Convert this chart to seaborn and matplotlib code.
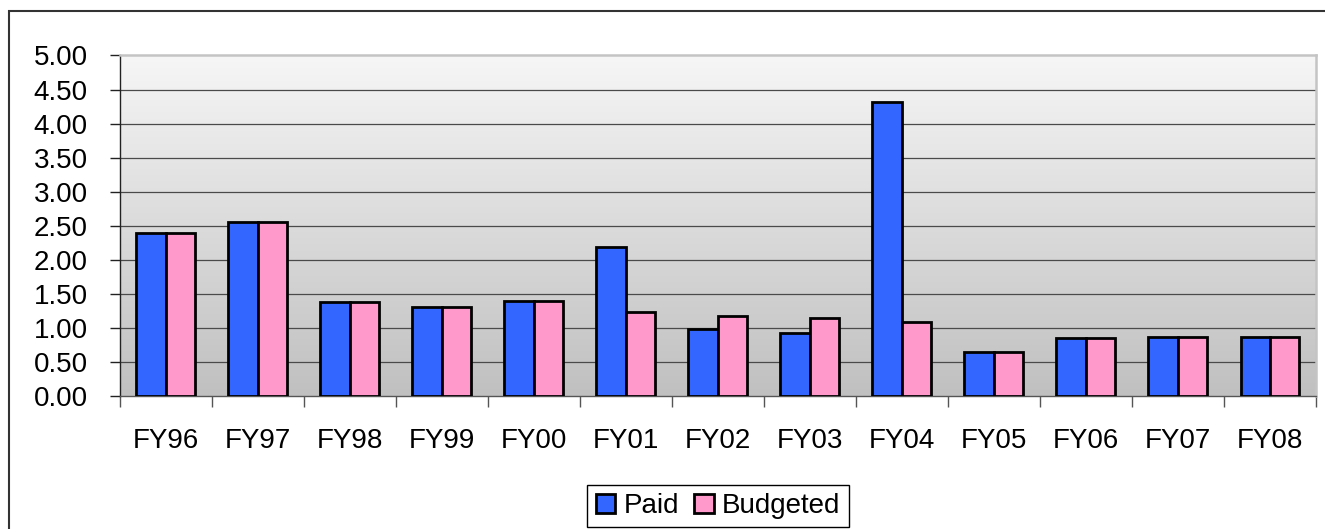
import numpy as np
import pandas as pd
import matplotlib
matplotlib.use("Agg")
import matplotlib.pyplot as plt
import seaborn as sns
from matplotlib.patches import Rectangle

years = ["FY96", "FY97", "FY98", "FY99", "FY00", "FY01", "FY02",
         "FY03", "FY04", "FY05", "FY06", "FY07", "FY08"]
paid = [2.39, 2.56, 1.38, 1.30, 1.39, 2.19, 0.99, 0.93, 4.31, 0.64, 0.85, 0.86, 0.86]
budgeted = [2.39, 2.56, 1.38, 1.30, 1.39, 1.23, 1.17, 1.14, 1.08, 0.64, 0.85, 0.86, 0.86]
series_names = ["Paid", "Budgeted"]
y_ticks = [0.0, 0.5, 1.0, 1.5, 2.0, 2.5, 3.0, 3.5, 4.0, 4.5, 5.0]

df = pd.DataFrame({
    "year": years * 2,
    "value": paid + budgeted,
    "series": [series_names[0]] * len(years) + [series_names[1]] * len(years),
})

sns.set_theme(style="white")
plt.rcParams["font.family"] = ["Liberation Sans", "DejaVu Sans"]
plt.rcParams["text.color"] = "black"
plt.rcParams["xtick.color"] = "black"
plt.rcParams["ytick.color"] = "black"

fig = plt.figure(figsize=(13.25, 5.29), dpi=100)
ax = fig.add_axes([0.0902, 0.2514, 0.9030, 0.6437])

palette = {"Paid": "#3366FF", "Budgeted": "#FF99CC"}
sns.barplot(data=df, x="year", y="value", hue="series", order=years,
            hue_order=series_names, palette=palette, width=0.64, gap=0,
            edgecolor="black", linewidth=2.0, saturation=1, ax=ax, zorder=3)

n = len(years)

# gradient plot-area fill (light at top, darker at bottom)
grad = np.linspace(0, 1, 256).reshape(-1, 1)
cmap = matplotlib.colors.LinearSegmentedColormap.from_list("bg", ["#f6f6f6", "#c0c0c0"])
ax.imshow(grad, extent=(-0.5, n - 0.5, 0, 5), aspect="auto", cmap=cmap,
          origin="upper", zorder=0)
ax.set_xlim(-0.5, n - 0.5)
ax.set_ylim(0, 5)

# gridlines
for v in y_ticks[1:-1]:
    ax.axhline(v, color="#4a4a4a", lw=0.9, zorder=1)

ax.set_yticks(y_ticks)
ax.set_yticklabels([f"{v:.2f}" for v in y_ticks], fontsize=20, color="black")
ax.set_xticks(np.arange(-0.5, n, 1.0))
ax.set_xticklabels([])
ax.set_xticks(np.arange(n), minor=True)
ax.set_xticklabels(years, minor=True, fontsize=20, color="black")
ax.tick_params(axis="x", which="major", direction="out", length=8, width=1,
               color="#555555", bottom=True)
ax.tick_params(axis="x", which="minor", length=0, pad=23)
ax.tick_params(axis="y", direction="out", length=7, width=1, color="#222222",
               left=True, pad=16)
ax.set_xlabel("")
ax.set_ylabel("")

for side in ("top", "right"):
    ax.spines[side].set_color("#c4c4c4")
    ax.spines[side].set_linewidth(1.8)
ax.spines["left"].set_color("#222222")
ax.spines["left"].set_linewidth(1.0)
ax.spines["bottom"].set_color("#555555")
ax.spines["bottom"].set_linewidth(1.0)

handles, labels = ax.get_legend_handles_labels()
leg = ax.legend(handles, labels, loc="center", bbox_to_anchor=(0.542, 0.0435),
                bbox_transform=fig.transFigure, ncol=2, fontsize=20, frameon=True,
                fancybox=False, edgecolor="black", framealpha=1,
                handlelength=0.7, handleheight=0.7, handletextpad=0.3,
                columnspacing=0.55, borderpad=0.3, borderaxespad=0)
leg.get_frame().set_linewidth(1.0)
for h in leg.legend_handles:
    h.set_linewidth(2.0)
    h.set_edgecolor("black")

# chart border
fig.patches.append(Rectangle((9 / 1325, -0.1), 1.2, 1 - 11 / 529 + 0.1,
                             transform=fig.transFigure, fill=False,
                             edgecolor="#333333", lw=1.5))

fig.savefig("out.png", dpi=100)
